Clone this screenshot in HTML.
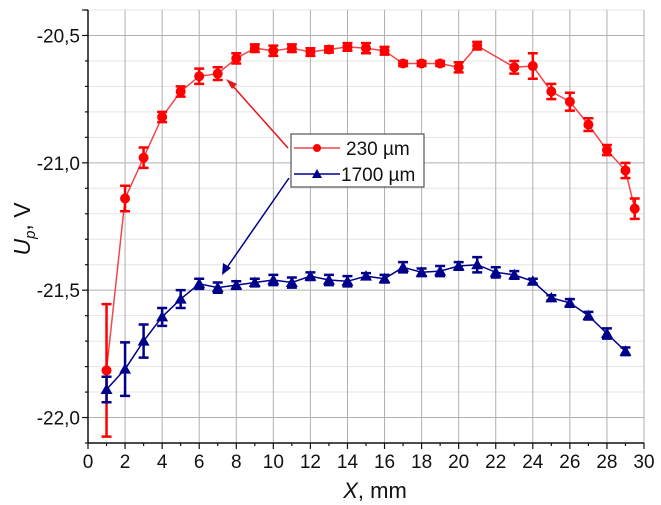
<!DOCTYPE html>
<html><head><meta charset="utf-8"><style>
html,body{margin:0;padding:0;background:#fff;}
svg{display:block;font-family:"Liberation Sans",Arial,sans-serif;}
</style></head><body>
<svg id="chart" width="661" height="505" viewBox="0 0 661 505" xmlns="http://www.w3.org/2000/svg">
<g id="grid"></g>
<g id="axes"></g>
<g id="series"></g>
<g>
  <line x1="288" y1="148" x2="231" y2="84" stroke="#e8141b" stroke-width="1.5"/>
  <polygon points="226,79 237,84 232,89" fill="#e8141b"/>
  <line x1="289" y1="178" x2="226" y2="269" stroke="#00008b" stroke-width="1.5"/>
  <polygon points="222,275 223,263 231,268" fill="#00008b"/>
</g>
<g>
  <rect x="291" y="134" width="133" height="53" fill="#fff" stroke="#333" stroke-width="1"/>
  <g>
    <line x1="294" y1="148" x2="340" y2="148" stroke="#f0474c" stroke-width="1.5"/>
    <circle cx="317" cy="148" r="4" fill="#f00"/>
    <text x="346" y="155" font-size="19" fill="#111">230 µm</text>
  </g>
  <g>
    <line x1="294" y1="174" x2="340" y2="174" stroke="#00008b" stroke-width="1.5"/>
    <polygon points="317,169 322,178 312,178" fill="#00008b"/>
    <text x="341" y="181" font-size="19" fill="#111">1700 µm</text>
  </g>
</g>
<text x="375" y="498" font-size="22" text-anchor="middle" fill="#111"><tspan font-style="italic">X</tspan>, mm</text>
<text transform="translate(30,229) rotate(-90)" font-size="23" text-anchor="middle" fill="#111"><tspan font-style="italic">U</tspan><tspan font-style="italic" font-size="15" dy="5">p</tspan><tspan dy="-5">, V</tspan></text>
</svg>
<script>
const xs230 = [1,2,3,4,5,6,7,8,9,10,11,12,13,14,15,16,17,18,19,20,21,23,24,25,26,27,28,29,29.5];
const ys230 = [-21.815,-21.14,-20.98,-20.82,-20.72,-20.66,-20.65,-20.59,-20.55,-20.56,-20.55,-20.565,-20.555,-20.545,-20.55,-20.56,-20.61,-20.61,-20.61,-20.625,-20.54,-20.625,-20.62,-20.72,-20.76,-20.85,-20.95,-21.03,-21.18];
const err230 = [0.26,0.05,0.04,0.02,0.02,0.03,0.025,0.02,0.015,0.02,0.015,0.015,0.012,0.015,0.02,0.015,0.01,0.01,0.01,0.02,0.015,0.025,0.05,0.03,0.035,0.025,0.02,0.03,0.04];
const xs1700 = [1,2,3,4,5,6,7,8,9,10,11,12,13,14,15,16,17,18,19,20,21,22,23,24,25,26,27,28,29];
const ys1700 = [-21.89,-21.81,-21.70,-21.605,-21.535,-21.475,-21.49,-21.48,-21.47,-21.46,-21.47,-21.445,-21.46,-21.465,-21.445,-21.455,-21.41,-21.43,-21.425,-21.405,-21.40,-21.43,-21.44,-21.465,-21.53,-21.55,-21.60,-21.67,-21.74];
const err1700 = [0.05,0.105,0.065,0.035,0.035,0.02,0.02,0.015,0.015,0.02,0.02,0.015,0.02,0.02,0.012,0.015,0.02,0.015,0.02,0.015,0.03,0.02,0.015,0.01,0.01,0.015,0.015,0.02,0.015];
const xTicks = [0,2,4,6,8,10,12,14,16,18,20,22,24,26,28,30];
const yTicks = [-20.5,-21.0,-21.5,-22.0];
const yTickLabels = ["-20,5","-21,0","-21,5","-22,0"];

const NS = "http://www.w3.org/2000/svg";
const L = 88, R = 644, T = 10, B = 443;
const X0 = 0, X1 = 30, Y0 = -22.1, Y1 = -20.4;
function sx(v){ return L + (v - X0) / (X1 - X0) * (R - L); }
function sy(v){ return B - (v - Y0) / (Y1 - Y0) * (B - T); }
function mk(tag, attrs, parent){ const e = document.createElementNS(NS, tag); for (const k in attrs) e.setAttribute(k, attrs[k]); parent.appendChild(e); return e; }

const grid = document.getElementById('grid');
const axes = document.getElementById('axes');
const series = document.getElementById('series');

for (let k = -220; k <= -204; k++) {
  const v = k / 10;
  if (Math.abs(v * 2 - Math.round(v * 2)) < 1e-6) continue;
  const ln = mk('line', {x1: L, x2: R, y1: sy(v), y2: sy(v), stroke: '#e4e4e4', 'stroke-width': 1}, grid);
  
  
}
yTicks.forEach(v => {
  const ln = mk('line', {x1: L, x2: R, y1: sy(v), y2: sy(v), stroke: '#b0b0b0', 'stroke-width': 1}, grid);
  
  
});
xTicks.forEach(v => {
  if (v === 0) return;
  const ln = mk('line', {x1: sx(v), x2: sx(v), y1: T, y2: B, stroke: '#b0b0b0', 'stroke-width': 1}, grid);
  
  
});

const xa = mk('line', {x1: L, x2: R, y1: B, y2: B, stroke: '#111', 'stroke-width': 1.5}, axes);


const ya = mk('line', {x1: L, x2: L, y1: T, y2: B, stroke: '#111', 'stroke-width': 1.5}, axes);


for (let v = 0; v <= 30; v++) {
  const len = v % 2 === 0 ? 6 : 3;
  mk('line', {x1: sx(v), x2: sx(v), y1: B, y2: B + len, stroke: '#111', 'stroke-width': 1.2}, axes);
}
xTicks.forEach(v => {
  const t = mk('text', {x: sx(v), y: B + 25, 'font-size': 19, 'text-anchor': 'middle', fill: '#111'}, axes);
  t.textContent = String(v);
  
  
});
for (let k = -221; k <= -204; k++) {
  const v = k / 10;
  const major = Math.abs(v * 2 - Math.round(v * 2)) < 1e-6;
  mk('line', {x1: L - (major ? 6 : 3), x2: L, y1: sy(v), y2: sy(v), stroke: '#111', 'stroke-width': 1.2}, axes);
}
mk('line', {x1: L - 6, x2: L, y1: T, y2: T, stroke: '#111', 'stroke-width': 1.2}, axes);
yTicks.forEach((v, i) => {
  const t = mk('text', {x: L - 8, y: sy(v) + 7, 'font-size': 19, 'text-anchor': 'end', fill: '#111'}, axes);
  t.textContent = yTickLabels[i];
  
  
});

function drawSeries(xs, ys, es, color, lineColor, marker, name) {
  const g = mk('g', {}, series);
  
  
  const pts = xs.map((x, i) => sx(x).toFixed(1) + ',' + sy(ys[i]).toFixed(1)).join(' ');
  mk('polyline', {points: pts, fill: 'none', stroke: lineColor, 'stroke-width': 1.5}, g);
  xs.forEach((x, i) => {
    const cx = sx(x), y0 = sy(ys[i] + es[i]), y1 = sy(ys[i] - es[i]);
    const eb = mk('path', {d: `M${cx},${y0}V${y1}M${cx-5},${y0}H${cx+5}M${cx-5},${y1}H${cx+5}`, stroke: color, 'stroke-width': 2.5, fill: 'none'}, g);
    
    
    const cy = sy(ys[i]);
    let m;
    if (marker === 'circle') m = mk('circle', {cx: cx, cy: cy, r: 5, fill: color}, g);
    else m = mk('polygon', {points: `${cx},${cy-6} ${cx+6},${cy+4.5} ${cx-6},${cy+4.5}`, fill: color}, g);
    
    
  });
}
drawSeries(xs230, ys230, err230, '#f00', '#f0474c', 'circle', 'series-230um');
drawSeries(xs1700, ys1700, err1700, '#00008b', '#00008b', 'triangle', 'series-1700um');
</script>
</body></html>
